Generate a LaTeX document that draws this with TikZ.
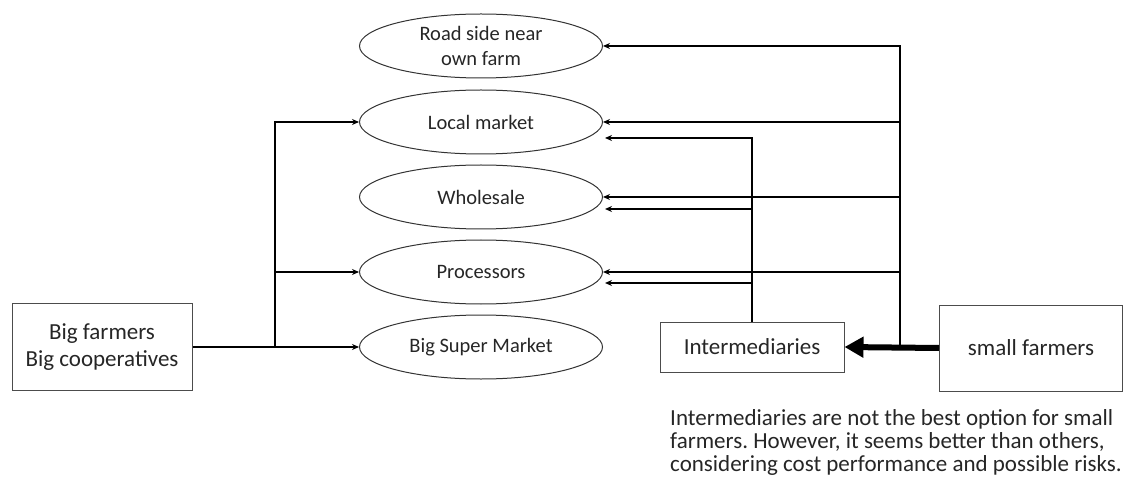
\documentclass[tikz,border=0pt]{standalone}
\usepackage{fontspec}
\setmainfont{Carlito}
\usetikzlibrary{shapes.geometric,arrows.meta,calc}
\frenchspacing

\begin{document}
\begin{tikzpicture}[x=1pt,y=-1pt,
		market/.style={draw=black!80,ellipse,line width=1pt,minimum width=243pt,minimum height=64pt,inner sep=0pt,align=center,text=black!85,font=\fontsize{20.5}{25}\selectfont},
		actor/.style={draw=black!70,rectangle,line width=1pt,inner sep=0pt,align=center,text=black!85,font=\fontsize{23}{27}\selectfont},
		flow/.style={line width=1.6pt,-{Stealth[length=7pt,width=6pt]}},
		mainflow/.style={line width=6pt,-{Triangle[length=19pt,width=20pt]}}
		]
	\useasboundingbox (0,0) rectangle (1127,481);

	% sales channels
	\node[market] (road) at (481,46) {Road side near\\own farm};
	\node[market] (local) at (481,122) {Local market};
	\node[market] (whole) at (481,197) {Wholesale};
	\node[market] (proc) at (481,272) {Processors};
	\node[market] (super) at (481,347) {Big Super Market};

	% producers and middlemen
	\node[actor,minimum width=180pt,minimum height=87pt] (big) at (102,347) {Big farmers\\Big cooperatives};
	\node[actor,minimum width=184pt,minimum height=50pt] (inter) at (752,347) {Intermediaries};
	\node[actor,minimum width=183pt,minimum height=86pt] (small) at (1031,348) {small farmers};

	\node[anchor=north west,align=left,inner sep=0pt,text=black!85,font=\fontsize{23}{23}\selectfont] (note) at (670,409)
		{Intermediaries are not the best option for small\\farmers. However, it seems better than others,\\considering cost performance and possible risks.};

	% big farmers go straight to the markets
	\coordinate (bigjoin) at (275,347);
	\draw[flow] (big.east) -- (super.west);
	\draw[flow] (bigjoin) |- (local.west);
	\draw[flow] (bigjoin |- proc.west) -- (proc.west);

	% small farmers: mostly through intermediaries
	\coordinate (smalljoin) at (900,347);
	\draw[mainflow] (small.west) -- (inter.east);
	\draw[flow] (smalljoin) |- (road.east);
	\draw[flow] (smalljoin |- local.east) -- (local.east);
	\draw[flow] (smalljoin |- whole.east) -- (whole.east);
	\draw[flow] (smalljoin |- proc.east) -- (proc.east);

	% intermediaries sell on
	\draw[flow] (inter.north) |- ($(local.east)+(2,16)$);
	\draw[flow] (inter.north |- whole.east) ++(0,12) -- ($(whole.east)+(2,12)$);
	\draw[flow] (inter.north |- proc.east) ++(0,11) -- ($(proc.east)+(2,11)$);
\end{tikzpicture}
\end{document}
